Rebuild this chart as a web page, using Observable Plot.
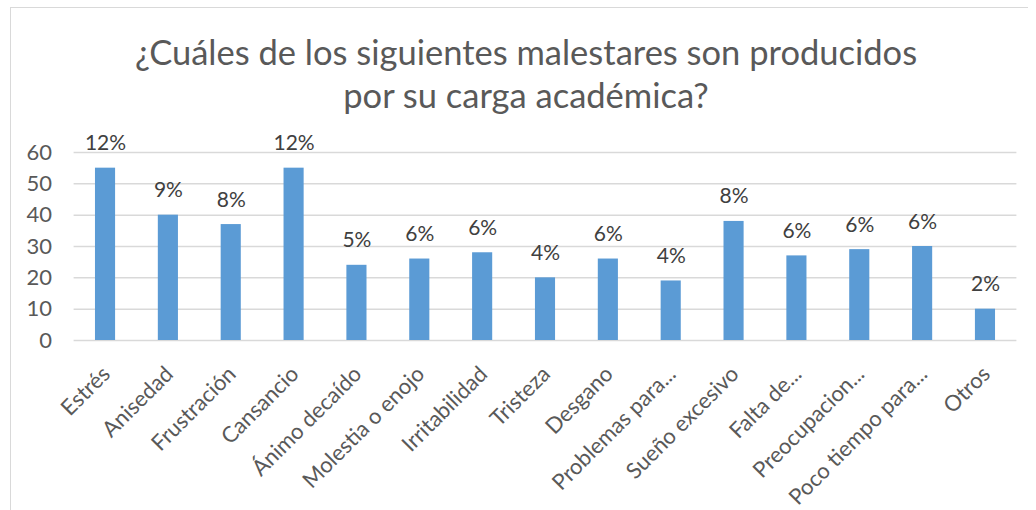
<!DOCTYPE html>
<html><head><meta charset="utf-8">
<script src="https://cdn.jsdelivr.net/npm/d3@7"></script>
<script src="https://cdn.jsdelivr.net/npm/@observablehq/plot@0.6"></script>
<style>
html,body{margin:0;padding:0;background:#fff;width:1036px;height:510px;overflow:hidden;}
#frame{position:absolute;left:10px;top:7px;width:1017px;height:510px;border-top:1.5px solid #d9d9d9;border-left:1.5px solid #d9d9d9;}
#title{position:absolute;left:0;top:0;width:1036px;height:130px;font-family:Lato,"Open Sans",sans-serif;font-size:34.5px;line-height:43px;color:#595959;text-align:center;box-sizing:border-box;padding-top:30px;padding-left:16px;}
#chart{position:absolute;left:0;top:130px;}
</style></head>
<body>
<div id="frame"></div>
<div id="title">¿Cuáles de los siguientes malestares son producidos<br>por su carga académica?</div>
<div id="chart"></div>
<script>
const categories = ["Estrés","Anisedad","Frustración","Cansancio","Ánimo decaído","Molestia o enojo","Irritabilidad","Tristeza","Desgano","Problemas para...","Sueño excesivo","Falta de...","Preocupacion...","Poco tiempo para...","Otros"];
const values = [55,40,37,55,24,26,28,20,26,19,38,27,29,30,10];
const percentLabels = ["12%","9%","8%","12%","5%","6%","6%","4%","6%","4%","8%","6%","6%","6%","2%"];
const yTicks = [0,10,20,30,40,50,60];

const data = categories.map((c,i)=>({cat:c, value:values[i], label:percentLabels[i]}));
const font = "Lato, 'Open Sans', sans-serif";

const chart = Plot.plot({
  width: 1036,
  height: 380,
  marginTop: 22,
  marginBottom: 170,
  marginLeft: 73.6,
  marginRight: 19.6,
  style: {fontFamily: font, color: "#595959", background: "transparent"},
  x: {domain: categories, paddingInner: 0.68, paddingOuter: 0.34, round: false, label: null},
  y: {domain: [0,60], label: null},
  marks: [
    Plot.ruleY(yTicks, {stroke: "#d9d9d9", strokeWidth: 1.5}),
    Plot.barY(data, {x: "cat", y: "value", fill: "#5b9bd5"}),
    Plot.text(data, {x: "cat", y: "value", text: "label", lineAnchor: "bottom", dy: -18, fontSize: 21, fill: "#404040"}),
    Plot.axisY({ticks: yTicks, tickSize: 0, tickPadding: 22, fontSize: 22, fill: "#595959", tickFormat: d=>String(d)}),
    Plot.axisX({tickSize: 0, tickRotate: -45, tickPadding: 30, fontSize: 22, fill: "#595959", dx: 1})
  ]
});
document.getElementById("chart").appendChild(chart);
</script>
</body></html>
